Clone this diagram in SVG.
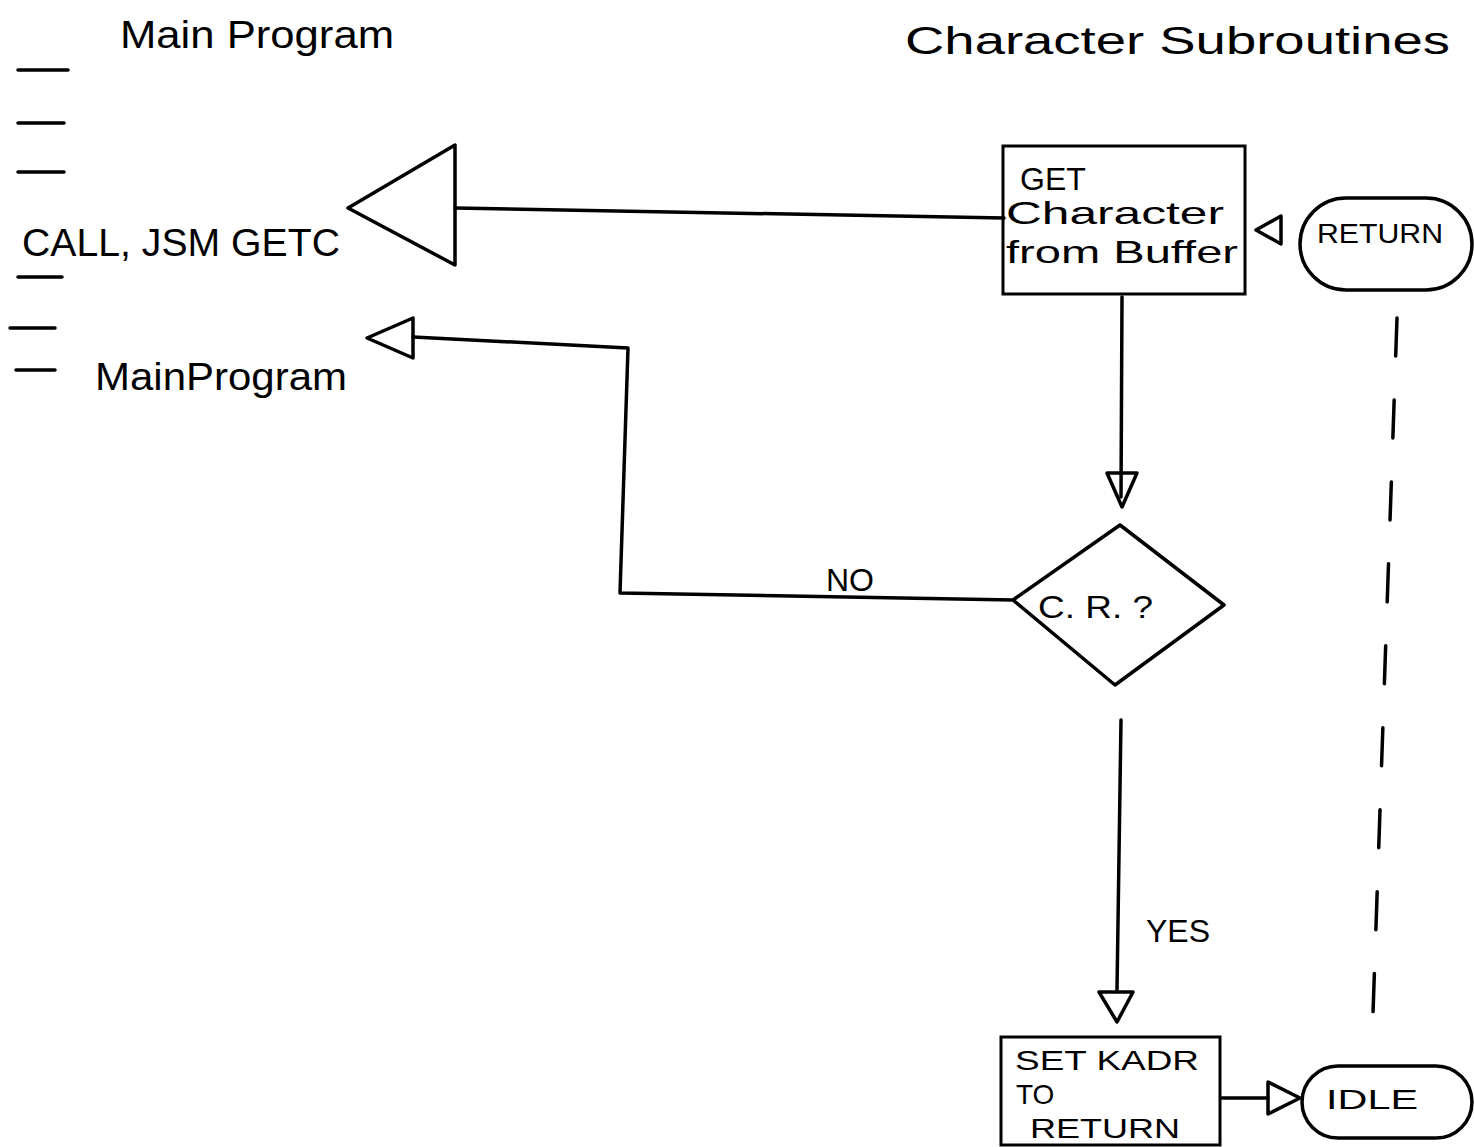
<svg xmlns="http://www.w3.org/2000/svg" width="1474" height="1147" viewBox="0 0 1474 1147">
<style>
.ln{fill:none;stroke:#000;stroke-width:3.5;stroke-linecap:round;stroke-linejoin:round}
.bx{fill:none;stroke:#000;stroke-width:3}
.t{font-family:"Liberation Sans","DejaVu Sans",sans-serif;fill:#000}
.h{font-size:38px}
.m{font-size:32px}
.s{font-size:28px}
</style>
<rect width="1474" height="1147" fill="#fff"/>
<g id="titles">
<text class="t h" x="120" y="48" textLength="274" lengthAdjust="spacingAndGlyphs">Main Program</text>
<text class="t h" x="905" y="54" textLength="545" lengthAdjust="spacingAndGlyphs">Character  Subroutines</text>
</g>
<g id="main-program">
<path class="ln" d="M18 70H68M18 123H64M18 172H64M18 277H62M10 328H55M16 370H55"/>
<text class="t h" x="22" y="256" textLength="318" lengthAdjust="spacingAndGlyphs">CALL, JSM GETC</text>
<text class="t h" x="95" y="390" textLength="252" lengthAdjust="spacingAndGlyphs">MainProgram</text>
</g>
<g id="connectors">
<polygon class="ln" points="348,208 455,145 455,265"/>
<path class="ln" d="M455 208L1004 218" stroke-width="2.5"/>
<polygon class="ln" points="367,338 413,318 413,358"/>
<path class="ln" d="M1013 600L620 593L628 348L413 337" stroke-width="3"/>
<path class="ln" d="M1122 297L1121 497"/>
<polygon class="ln" points="1107,473 1137,473 1122,507"/>
<path class="ln" d="M1121 720L1117 990"/>
<polygon class="ln" points="1099,992 1133,992 1117,1022"/>
<path class="ln" d="M1222 1098H1268"/>
<polygon class="ln" points="1268,1082 1268,1114 1300,1098"/>
<polygon class="ln" points="1256,230 1281,216 1281,244" stroke-width="4.5"/>
<path class="ln" d="M1397 318L1372 1042" stroke-width="3" stroke-dasharray="38,44"/>
<text class="t m" x="826" y="591">NO</text>
<text class="t m" x="1146" y="942">YES</text>
</g>
<g id="get-char">
<rect class="bx" x="1003" y="146" width="242" height="148"/>
<text class="t m" x="1020" y="190">GET</text>
<text class="t m" x="1006" y="224" textLength="218" lengthAdjust="spacingAndGlyphs">Character</text>
<text class="t m" x="1006" y="263" textLength="232" lengthAdjust="spacingAndGlyphs">from Buffer</text>
</g>
<g id="return">
<rect class="ln" x="1300" y="198" width="172" height="92" rx="46" stroke-width="3.5"/>
<text class="t s" x="1380" y="243" text-anchor="middle" textLength="126" lengthAdjust="spacingAndGlyphs">RETURN</text>
</g>
<g id="cr">
<polygon class="ln" points="1120,525 1224,605 1115,685 1013,600"/>
<text class="t m" x="1038" y="618" textLength="115" lengthAdjust="spacingAndGlyphs">C. R. ?</text>
</g>
<g id="set-kadr">
<rect class="bx" x="1001" y="1037" width="219" height="108"/>
<text class="t s" x="1015" y="1070" textLength="184" lengthAdjust="spacingAndGlyphs">SET  KADR</text>
<text class="t s" x="1016" y="1104">TO</text>
<text class="t s" x="1030" y="1138" textLength="150" lengthAdjust="spacingAndGlyphs">RETURN</text>
</g>
<g id="idle">
<rect class="ln" x="1302" y="1066" width="170" height="72" rx="36"/>
<text class="t s" x="1372" y="1109" text-anchor="middle" textLength="92" lengthAdjust="spacingAndGlyphs">IDLE</text>
</g>
</svg>
